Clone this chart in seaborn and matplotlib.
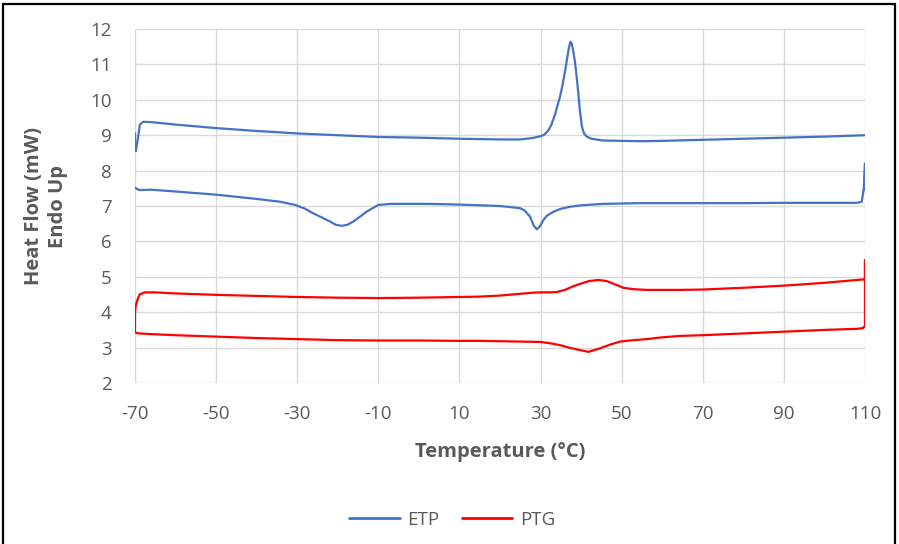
import numpy as np
import pandas as pd
import seaborn as sns
import matplotlib
matplotlib.use("Agg")
import matplotlib.pyplot as plt
from matplotlib.patches import Rectangle

# ---------------- data ----------------
etp_heat_T = [-70, -70, -69.8, -69.3, -68.8, -68, -66, -60, -50, -40, -30, -20, -10, 0, 10, 20,
              25, 28, 30, 31, 32, 32.6, 33.1, 33.6, 34.2, 34.8, 35.3, 35.8, 36.2, 36.6, 37.0,
              37.4, 37.7, 38.1, 38.5, 38.9, 39.3, 39.7, 40.2, 40.7, 41.4, 42.5, 45.4, 50, 55,
              60, 70, 80, 90, 100, 110]
etp_heat_HF = [9.05, 8.7, 8.55, 8.9, 9.3, 9.38, 9.37, 9.3, 9.2, 9.12, 9.05, 9.0, 8.95, 8.93,
               8.9, 8.88, 8.88, 8.92, 8.97, 9.02, 9.15, 9.28, 9.43, 9.6, 9.85, 10.09, 10.35,
               10.65, 10.92, 11.2, 11.48, 11.64, 11.58, 11.35, 11.05, 10.65, 10.2, 9.7, 9.24,
               9.05, 8.96, 8.9, 8.85, 8.84, 8.83, 8.84, 8.87, 8.9, 8.93, 8.96, 9.0]

etp_cool_T = [110, 110, 109.7, 109.2, 108, 100, 90, 80, 70, 60, 54.5, 45.4, 40, 37.3, 35, 33.2,
              31.5, 30.7, 29.8, 29.1, 28.3, 27.4, 26, 24.9, 20, 10, 2.7, -5, -7.1, -10, -12.9,
              -14.5, -16.2, -17.6, -19.0, -20.5, -21.9, -24, -26.0, -28, -30.5, -34.2, -40,
              -50, -60, -66, -68.8, -69.5, -70]
etp_cool_HF = [7.45, 8.2, 7.5, 7.12, 7.09, 7.09, 7.09, 7.08, 7.08, 7.08, 7.08, 7.06, 7.02, 6.98,
               6.92, 6.84, 6.72, 6.6, 6.42, 6.34, 6.45, 6.7, 6.88, 6.94, 7.0, 7.04, 7.06, 7.06,
               7.06, 7.03, 6.84, 6.7, 6.56, 6.47, 6.44, 6.47, 6.56, 6.68, 6.79, 6.92, 7.03,
               7.12, 7.2, 7.32, 7.41, 7.46, 7.45, 7.48, 7.52]

ptg_T = [-70, -69.8, -69.3, -68.8, -67.5, -65, -60, -50, -40, -30, -20, -10, 0, 10, 15, 20, 25,
         28, 30, 32, 34, 36, 38, 39.7, 42, 44.3, 46.3, 48.5, 50.4, 53, 56.2, 60, 64.4, 70, 80,
         90, 100, 105, 110,
         110, 110, 109.5,
         108, 100, 90, 80, 70, 64.4, 60, 56.2, 52, 49.6, 47, 44.7, 41.8, 39.7, 37, 34.8, 32,
         29.9, 25, 15.1, 10, 0, -10, -20, -30, -40, -50, -60, -66, -68.8, -69.6, -70, -70]
ptg_HF = [4.0, 4.2, 4.38, 4.51, 4.56, 4.56, 4.53, 4.49, 4.46, 4.43, 4.41, 4.40, 4.41, 4.43,
          4.44, 4.47, 4.52, 4.55, 4.56, 4.56, 4.57, 4.63, 4.73, 4.8, 4.88, 4.91, 4.88, 4.78,
          4.69, 4.65, 4.63, 4.63, 4.63, 4.64, 4.69, 4.75, 4.83, 4.88, 4.93,
          5.47, 3.62, 3.55,
          3.53, 3.5, 3.45, 3.4, 3.35, 3.33, 3.29, 3.24, 3.2, 3.17, 3.08, 2.98, 2.88, 2.93, 3.0,
          3.07, 3.13, 3.16, 3.17, 3.19, 3.19, 3.2, 3.2, 3.21, 3.24, 3.27, 3.31, 3.35, 3.38,
          3.4, 3.41, 3.44, 4.0]

x_ticks = [-70, -50, -30, -10, 10, 30, 50, 70, 90, 110]
y_ticks = [2, 3, 4, 5, 6, 7, 8, 9, 10, 11, 12]

# ---------------- build table ----------------
frames = []
for T, H, s, u in [(etp_heat_T, etp_heat_HF, "ETP", "ETP-heat"),
                   (etp_cool_T, etp_cool_HF, "ETP", "ETP-cool"),
                   (ptg_T, ptg_HF, "PTG", "PTG-loop")]:
    d = pd.DataFrame({"T": T, "HF": H})
    d["sample"] = s
    d["unit"] = u
    frames.append(d)
df = pd.concat(frames, ignore_index=True)

# ---------------- plot ----------------
sns.set_theme(style="white")
plt.rcParams["font.family"] = ["Open Sans", "DejaVu Sans"]
plt.rcParams["axes.unicode_minus"] = False

fig = plt.figure(figsize=(8.99, 5.44), dpi=100)
ax = fig.add_axes([135 / 899, 1 - 383 / 544, (865 - 135) / 899, (383 - 29) / 544])

sns.lineplot(data=df, x="T", y="HF", hue="sample", units="unit", estimator=None,
             sort=False, palette={"ETP": "#4472C4", "PTG": "#FF0000"},
             linewidth=1.6, ax=ax, zorder=3)

ax.set_xlim(-70, 110)
ax.set_ylim(2, 12)
ax.set_xticks(x_ticks)
ax.set_yticks(y_ticks)
ax.grid(True, color="#d9d9d9", linewidth=1.0)
ax.set_axisbelow(True)
for sp in ax.spines.values():
    sp.set_visible(False)
ax.tick_params(axis="both", length=0, labelsize=13.5, labelcolor="#595959")
ax.tick_params(axis="y", pad=17)
ax.tick_params(axis="x", pad=16)

ax.set_xlabel("Temperature (°C)", fontsize=14.5, fontweight="bold", color="#595959")
ax.set_ylabel("Heat Flow (mW)\nEndo Up", fontsize=14.5, fontweight="bold", color="#595959",
              multialignment="center")
ax.xaxis.label.set_va("center")
ax.yaxis.label.set_va("center")
ax.yaxis.label.set_ha("center")
ax.xaxis.set_label_coords(0.5, -(452 - 383) / (383 - 29))
ax.yaxis.set_label_coords(-(135 - 46) / (865 - 135), 0.5)

handles, labels = ax.get_legend_handles_labels()
if ax.legend_:
    ax.legend_.remove()
leg = fig.legend(handles, labels, loc="center", bbox_to_anchor=(452 / 899, 1 - 520 / 544),
                 ncol=2, frameon=False, fontsize=13.5, handlelength=2.7, columnspacing=1.2,
                 handletextpad=0.4)
for t in leg.get_texts():
    t.set_color("#595959")
for l in leg.get_lines():
    l.set_linewidth(2.0)

fig.patches.append(Rectangle((2.5 / 899, -0.05), (895 - 2.5) / 899, 1.05 - 3.5 / 544,
                             transform=fig.transFigure, fill=False, edgecolor="black",
                             linewidth=1.6, clip_on=False))

fig.savefig("out.png", dpi=100)
